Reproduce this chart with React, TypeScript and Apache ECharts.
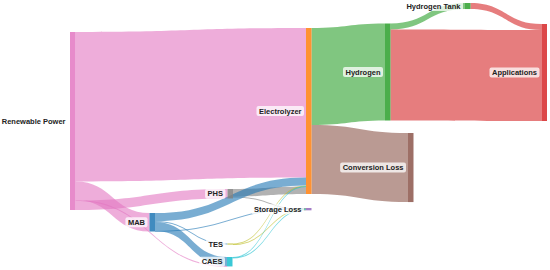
import React, { useEffect, useRef } from 'react';
import * as echarts from 'echarts';

// ---- data ----
const nodeNames = [
  'Renewable Power',
  'MAB',
  'PHS',
  'TES',
  'CAES',
  'Electrolyzer',
  'Storage Loss',
  'Hydrogen',
  'Conversion Loss',
  'Hydrogen Tank',
  'Applications',
];

const linkSources = [
  'Renewable Power', 'Renewable Power', 'Renewable Power',
  'PHS', 'PHS',
  'MAB', 'MAB', 'MAB', 'MAB',
  'Renewable Power',
  'TES', 'TES',
  'CAES', 'CAES',
  'Electrolyzer', 'Electrolyzer',
  'Hydrogen', 'Hydrogen Tank', 'Hydrogen',
];
const linkTargets = [
  'Electrolyzer', 'PHS', 'MAB',
  'Electrolyzer', 'Storage Loss',
  'Electrolyzer', 'Storage Loss', 'TES', 'CAES',
  'CAES',
  'Electrolyzer', 'Storage Loss',
  'Electrolyzer', 'Storage Loss',
  'Hydrogen', 'Conversion Loss',
  'Hydrogen Tank', 'Applications', 'Applications',
];
const linkValues = [
  84.0, 5.3, 10.4,
  4.2, 0.5,
  4.5, 0.3, 0.6, 5.0,
  0.3,
  0.3, 0.2,
  0.3, 0.3,
  54.5, 38.8,
  3.4, 3.4, 51.1,
];

// ---- styles ----
const nodeColors = [
  '#e377c2', '#1f77b4', '#7f7f7f', '#bcbd22', '#17becf', '#ff7f0e',
  '#9467bd', '#2ca02c', '#8c564b', '#2ca02c', '#d62728',
];
// which node's colour each link takes
const linkColorNodes = [
  'Renewable Power', 'Renewable Power', 'Renewable Power',
  'PHS', 'PHS',
  'MAB', 'MAB', 'MAB', 'MAB',
  'Renewable Power',
  'TES', 'TES',
  'CAES', 'CAES',
  'Hydrogen', 'Conversion Loss',
  'Hydrogen', 'Applications', 'Applications',
];

// ---- layout (pixel placement of node top-left corners) ----
const LAYOUT = { left: 70, top: 32, width: 477, height: 178 };
const nodePlacement: Record<string, [number, number]> = {
  'Renewable Power': [70, 32],
  MAB: [149.5, 213],
  PHS: [227.5, 189],
  TES: [227.5, 243.5],
  CAES: [227, 257],
  Electrolyzer: [306, 28],
  'Storage Loss': [306, 208],
  Hydrogen: [385, 23.5],
  'Conversion Loss': [408, 133],
  'Hydrogen Tank': [465, 3],
  Applications: [541.5, 24],
};

export default function App() {
  const ref = useRef<HTMLDivElement>(null);
  useEffect(() => {
    const chart = echarts.init(ref.current!, undefined, { renderer: 'svg' });
    const colorOf: Record<string, string> = {};
    nodeNames.forEach((n, i) => (colorOf[n] = nodeColors[i]));
    chart.setOption({
      animation: false,
      series: [
        {
          type: 'sankey',
          left: LAYOUT.left,
          top: LAYOUT.top,
          width: LAYOUT.width,
          height: LAYOUT.height,
          nodeWidth: 5.5,
          nodeGap: 8,
          layoutIterations: 0,
          nodeAlign: 'left',
          draggable: false,
          emphasis: { disabled: true },
          label: {
            show: true,
            position: 'left',
            distance: 2,
            fontSize: 7.5,
            fontWeight: 'bold',
            fontFamily: 'Liberation Sans, Arial, sans-serif',
            color: '#222',
            backgroundColor: 'rgba(255,255,255,0.75)',
            borderRadius: 2,
            padding: [1, 2.5, 1, 2.5],
          },
          data: nodeNames.map((name, i) => {
            const p = nodePlacement[name];
            return {
              name,
              localX: (p[0] - LAYOUT.left) / LAYOUT.width,
              localY: (p[1] - LAYOUT.top) / LAYOUT.height,
              itemStyle: { color: nodeColors[i], opacity: 0.85, borderWidth: 0 },
            };
          }),
          links: linkSources.map((s, i) => ({
            source: s,
            target: linkTargets[i],
            value: linkValues[i],
            lineStyle: { color: colorOf[linkColorNodes[i]], opacity: 0.6, curveness: 0.5 },
          })),
        },
      ],
    });
    return () => chart.dispose();
  }, []);
  return (
    <div
      ref={ref}
      style={{ position: 'fixed', left: 0, top: 0, width: 550, height: 270, background: '#fff' }}
    />
  );
}
